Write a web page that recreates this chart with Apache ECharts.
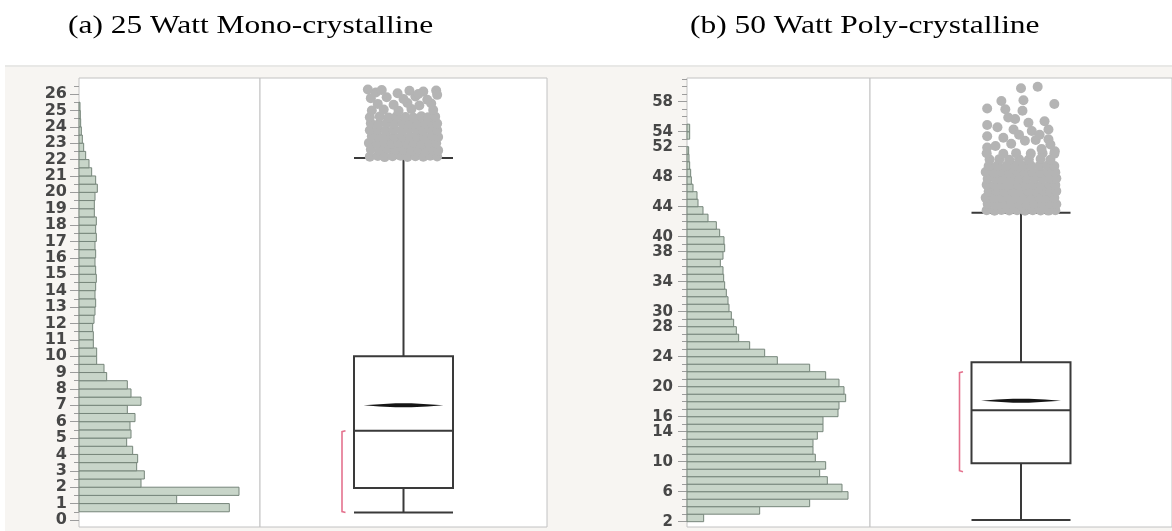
<!DOCTYPE html>
<html><head><meta charset="utf-8">
<script src="https://cdn.jsdelivr.net/npm/echarts@6/dist/echarts.min.js"></script>
<style>html,body{margin:0;padding:0;background:#fff}#c{width:1172px;height:531px}</style>
</head><body><div id="c"></div>
<script>
// ---------- DATA ----------
const titleA = '(a) 25 Watt Mono-crystalline';
const titleB = '(b) 50 Watt Poly-crystalline';

// Panel (a): histogram, bin width 0.5
const binLoA = [0.5,1,1.5,2,2.5,3,3.5,4,4.5,5,5.5,6,6.5,7,7.5,8,8.5,9,9.5,10,10.5,11,11.5,12,12.5,13,13.5,14,14.5,15,15.5,16,16.5,17,17.5,18,18.5,19,19.5,20,20.5,21,21.5,22,22.5,23,23.5,24,24.5,25];
const countsA = [451,293,480,186,196,173,176,161,143,156,153,168,145,186,156,145,83,75,53,53,43,43,41,45,48,50,48,50,52,50,48,50,48,52,50,52,46,46,48,55,50,38,30,20,14,10,7,5,4,3];
const binWidthA = 0.5;

// Panel (b): histogram, bin width 1
const binLoB = [2,3,4,5,6,7,8,9,10,11,12,13,14,15,16,17,18,19,20,21,22,23,24,25,26,27,28,29,30,31,32,33,34,35,36,37,38,39,40,41,42,43,44,45,46,47,48,49,50,51,53,54];
const countsB = [50,218,368,483,465,421,398,416,385,378,378,391,408,408,453,456,476,471,456,416,368,271,233,188,155,148,140,133,126,123,118,113,110,108,100,108,113,111,98,88,63,48,33,30,18,13,11,8,6,5,8,8];
const binWidthB = 1;

// Tick labels
const labelsA = [0,1,2,3,4,5,6,7,8,9,10,11,12,13,14,15,16,17,18,19,20,21,22,23,24,25,26];
const minorTicksA = [0.5,1.5,2.5,3.5,4.5,5.5,6.5,7.5,8.5,9.5,10.5,11.5,12.5,13.5,14.5,15.5,16.5,17.5,18.5,19.5,20.5,21.5,22.5,23.5,24.5,25.5,26.5];
const labelsB = [2,6,10,14,16,20,24,28,30,34,38,40,44,48,52,54,58];
const minorTicksB = [3,4,5,7,8,9,11,12,13,15,17,18,19,21,22,23,25,26,27,29,31,32,33,35,36,37,39,41,42,43,45,46,47,49,50,51,53,55,56,57,59,60,61];

// Box plots: [lower whisker, Q1, median, Q3, upper whisker]
const boxA = [0.45, 1.95, 5.45, 10.0, 22.1];
const meanA = 7.0;
const shortestHalfA = [0.45, 5.45];
const boxB = [2.23, 9.79, 16.85, 23.25, 43.2];
const meanB = 18.13;
const shortestHalfB = [8.67, 22.0];

// Outliers: [jitter (box widths), value]
const outliersA = [
[-0.34,22.18],[-0.26,22.22],[-0.19,22.15],[-0.11,22.2],[-0.03,22.24],[0.04,22.16],[0.12,22.21],[0.2,22.17],[0.27,22.23],[0.34,22.19],
[-0.33,22.62],[-0.24,22.57],[-0.16,22.64],[-0.08,22.58],[0.0,22.61],[0.08,22.55],[0.15,22.63],[0.23,22.59],[0.3,22.65],[0.35,22.56],
[-0.35,23.01],[-0.27,22.97],[-0.2,23.04],[-0.12,22.98],[-0.05,23.03],[0.03,22.99],[0.1,23.05],[0.18,22.96],[0.26,23.02],[0.33,23.0],
[-0.32,23.42],[-0.25,23.37],[-0.17,23.44],[-0.09,23.38],[-0.01,23.41],[0.07,23.36],[0.14,23.43],[0.21,23.39],[0.29,23.45],[0.35,23.38],
[-0.34,23.79],[-0.26,23.83],[-0.18,23.77],[-0.1,23.82],[-0.02,23.78],[0.05,23.84],[0.13,23.8],[0.2,23.76],[0.28,23.83],[0.34,23.79],
[-0.33,24.22],[-0.25,24.17],[-0.17,24.23],[-0.09,24.19],[-0.01,24.24],[0.06,24.18],[0.14,24.21],[0.22,24.16],[0.29,24.24],[0.34,24.2],
[-0.34,24.58],[-0.24,24.63],[-0.15,24.57],[-0.07,24.64],[0.02,24.6],[0.1,24.56],[0.18,24.65],[0.25,24.59],[0.32,24.62],
[-0.32,25.0],[-0.2,25.05],[-0.05,24.98],[0.08,25.08],[0.3,25.02],[-0.26,25.4],[-0.1,25.35],[0.04,25.45],[0.16,25.3],[0.28,25.42],
[-0.33,25.75],[-0.17,25.8],[0.0,25.7],[0.12,25.85],[0.24,25.65],[-0.28,26.1],[-0.06,26.05],[0.06,26.2],[0.2,26.15],[0.33,26.22],
[-0.36,26.28],[0.34,25.95],[-0.22,26.25],[0.15,26.0]
];
const outliersB = [
[-0.35,43.52],[-0.27,43.47],[-0.2,43.55],[-0.12,43.49],[-0.04,43.53],[0.04,43.46],[0.12,43.54],[0.2,43.5],[0.28,43.48],[0.35,43.53],
[-0.34,44.38],[-0.26,44.31],[-0.18,44.4],[-0.1,44.33],[-0.02,44.37],[0.06,44.3],[0.14,44.39],[0.22,44.34],[0.3,44.36],[0.36,44.32],
[-0.36,45.18],[-0.28,45.24],[-0.2,45.16],[-0.12,45.22],[-0.05,45.19],[0.03,45.25],[0.11,45.17],[0.19,45.21],[0.27,45.23],[0.34,45.18],
[-0.33,46.02],[-0.25,46.08],[-0.17,46.01],[-0.09,46.07],[-0.01,46.04],[0.07,46.09],[0.15,46.03],[0.23,46.06],[0.3,46.01],[0.36,46.08],
[-0.35,46.93],[-0.27,46.87],[-0.19,46.92],[-0.11,46.88],[-0.03,46.94],[0.05,46.89],[0.13,46.91],[0.21,46.86],[0.29,46.93],[0.35,46.9],
[-0.34,47.72],[-0.26,47.78],[-0.18,47.73],[-0.1,47.77],[-0.02,47.71],[0.06,47.79],[0.14,47.74],[0.22,47.76],[0.3,47.72],[0.36,47.78],
[-0.36,48.63],[-0.28,48.57],[-0.2,48.62],[-0.12,48.58],[-0.04,48.64],[0.04,48.59],[0.12,48.61],[0.2,48.56],[0.28,48.63],[0.35,48.6],
[-0.33,49.42],[-0.24,49.48],[-0.15,49.43],[-0.06,49.47],[0.02,49.41],[0.1,49.49],[0.19,49.44],[0.27,49.46],[0.34,49.42],
[-0.32,50.28],[-0.22,50.34],[-0.12,50.27],[-0.02,50.33],[0.08,50.29],[0.2,50.35],[0.3,50.27],
[-0.35,51.12],[-0.18,51.06],[-0.05,51.14],[0.1,51.08],[0.22,51.13],[0.34,51.05],
[0.0,59.8],[0.17,60.0],[0.34,57.7],[-0.345,57.1],[-0.2,58.1],[0.025,58.2],[0.015,56.8],[-0.16,57.0],[-0.13,55.9],[-0.06,55.7],
[0.076,55.2],[0.24,55.4],[-0.345,54.9],[-0.24,54.6],[-0.076,54.3],[0.11,54.1],[0.28,54.3],[-0.345,53.4],[-0.18,53.2],[0.28,53.0],
[-0.345,51.9],[0.21,51.7],[0.345,51.4],[0.04,52.8],[-0.1,52.4],[0.15,52.9],[0.3,52.3],[-0.26,52.1],[-0.02,53.6],[0.19,53.6]
];

// ---------- CHART ----------
const histA = binLoA.map((lo, i) => [lo, lo + binWidthA, countsA[i]]);
const histB = binLoB.map((lo, i) => [lo, lo + binWidthB, countsB[i]]);

function histRender(params, api) {
  const lo = api.value(0), hi = api.value(1), c = api.value(2);
  const p0 = api.coord([0, hi]);
  const p1 = api.coord([c, lo]);
  return {
    type: 'rect',
    shape: { x: p0[0], y: p0[1], width: p1[0] - p0[0], height: p1[1] - p0[1] },
    style: { fill: '#c8d5c9', stroke: '#76857a', lineWidth: 1 }
  };
}
function meanRender(params, api) {
  const p = api.coord([api.value(0), api.value(1)]);
  const x = p[0], y = p[1];
  return {
    type: 'polygon',
    shape: { points: [[x-40,y],[x-24,y-1.1],[x-8,y-2],[x+8,y-2],[x+24,y-1.1],[x+40,y],[x+24,y+1.1],[x+8,y+2],[x-8,y+2],[x-24,y+1.1]] },
    style: { fill: '#151515' }
  };
}
function bracketRender(params, api) {
  const top = api.coord([api.value(0), api.value(2)]);
  const bot = api.coord([api.value(0), api.value(1)]);
  const x = top[0] - 61.5;
  return {
    type: 'polyline',
    shape: { points: [[x+3.5, top[1]], [x, top[1]+1], [x, bot[1]-1], [x+3.5, bot[1]]] },
    style: { stroke: '#e4728e', lineWidth: 1.6, fill: null }
  };
}

const labelStyleA = { fontFamily: 'DejaVu Sans', fontWeight: 'bold', fontSize: 16, color: '#474747' };
const labelStyleB = { fontFamily: 'DejaVu Sans', fontWeight: 'bold', fontSize: 15, color: '#474747' };
const gridStyle = { show: true, backgroundColor: '#fff', borderColor: '#c2c2c2', borderWidth: 1 };

const option = {
  animation: false,
  backgroundColor: '#f7f5f2',
  graphic: [
    { type: 'rect', left: 0, top: 0, shape: { width: 1172, height: 65 }, style: { fill: '#fff' } },
    { type: 'rect', left: 0, top: 65, shape: { width: 1172, height: 2 }, style: { fill: '#e8e8e6' } },
    { type: 'rect', left: 0, top: 65, shape: { width: 5, height: 466 }, style: { fill: '#fff' } },
    { type: 'text', x: 68, y: 13.5, scaleX: 1.21, style: { text: titleA, font: '26px "Liberation Serif"', fill: '#000' } },
    { type: 'text', x: 690, y: 13.5, scaleX: 1.21, style: { text: titleB, font: '26px "Liberation Serif"', fill: '#000' } }
  ],
  grid: [
    Object.assign({ left: 79, top: 78, width: 181, height: 449 }, gridStyle),
    Object.assign({ left: 260, top: 78, width: 287, height: 449 }, gridStyle),
    Object.assign({ left: 687, top: 78, width: 183, height: 449 }, gridStyle),
    Object.assign({ left: 870, top: 78, width: 305, height: 449 }, gridStyle)
  ],
  xAxis: [
    { gridIndex: 0, type: 'value', min: 0, max: 543, show: false },
    { gridIndex: 1, type: 'category', data: ['Mono'], show: false },
    { gridIndex: 1, type: 'value', min: -1.45, max: 1.45, show: false },
    { gridIndex: 2, type: 'value', min: 0, max: 549, show: false },
    { gridIndex: 3, type: 'category', data: ['Poly'], show: false },
    { gridIndex: 3, type: 'value', min: -1.54, max: 1.54, show: false }
  ],
  yAxis: [
    { gridIndex: 0, type: 'value', position: 'left', min: -0.43, max: 26.98,
      axisLine: { show: false }, splitLine: { show: false },
      axisTick: { show: true, customValues: labelsA, length: 9, lineStyle: { color: '#9c9c9c' } },
      axisLabel: Object.assign({ customValues: labelsA, margin: 12 }, labelStyleA) },
    { gridIndex: 0, type: 'value', position: 'left', min: -0.43, max: 26.98,
      axisLine: { show: false }, splitLine: { show: false }, axisLabel: { show: false },
      axisTick: { show: true, customValues: minorTicksA, length: 5, lineStyle: { color: '#9c9c9c' } } },
    { gridIndex: 1, type: 'value', min: -0.43, max: 26.98, show: false, splitLine: { show: false } },
    { gridIndex: 2, type: 'value', position: 'left', min: 1.29, max: 61.16,
      axisLine: { show: false }, splitLine: { show: false },
      axisTick: { show: true, customValues: labelsB, length: 9, lineStyle: { color: '#9c9c9c' } },
      axisLabel: Object.assign({ customValues: labelsB, margin: 14 }, labelStyleB) },
    { gridIndex: 2, type: 'value', position: 'left', min: 1.29, max: 61.16,
      axisLine: { show: false }, splitLine: { show: false }, axisLabel: { show: false },
      axisTick: { show: true, customValues: minorTicksB, length: 5, lineStyle: { color: '#9c9c9c' } } },
    { gridIndex: 3, type: 'value', min: 1.29, max: 61.16, show: false, splitLine: { show: false } }
  ],
  series: [
    { type: 'custom', xAxisIndex: 0, yAxisIndex: 0, data: histA, renderItem: histRender, encode: { x: 2, y: [0, 1] }, silent: true },
    { type: 'custom', xAxisIndex: 3, yAxisIndex: 3, data: histB, renderItem: histRender, encode: { x: 2, y: [0, 1] }, silent: true },
    { type: 'boxplot', xAxisIndex: 1, yAxisIndex: 2, data: [boxA], boxWidth: [99, 99], silent: true, z: 2,
      itemStyle: { color: '#fff', borderColor: '#3a3a3a', borderWidth: 2 } },
    { type: 'boxplot', xAxisIndex: 4, yAxisIndex: 5, data: [boxB], boxWidth: [99, 99], silent: true, z: 2,
      itemStyle: { color: '#fff', borderColor: '#3a3a3a', borderWidth: 2 } },
    { type: 'custom', xAxisIndex: 1, yAxisIndex: 2, data: [[0, meanA]], renderItem: meanRender, encode: { x: 0, y: 1 }, silent: true, z: 4 },
    { type: 'custom', xAxisIndex: 4, yAxisIndex: 5, data: [[0, meanB]], renderItem: meanRender, encode: { x: 0, y: 1 }, silent: true, z: 4 },
    { type: 'custom', xAxisIndex: 1, yAxisIndex: 2, data: [[0, shortestHalfA[0], shortestHalfA[1]]], renderItem: bracketRender, encode: { x: 0, y: [1, 2] }, silent: true, z: 4 },
    { type: 'custom', xAxisIndex: 4, yAxisIndex: 5, data: [[0, shortestHalfB[0], shortestHalfB[1]]], renderItem: bracketRender, encode: { x: 0, y: [1, 2] }, silent: true, z: 4 },
    { type: 'scatter', xAxisIndex: 2, yAxisIndex: 2, data: outliersA, symbolSize: 10, silent: true, z: 5,
      itemStyle: { color: '#b4b4b4', opacity: 1 } },
    { type: 'scatter', xAxisIndex: 5, yAxisIndex: 5, data: outliersB, symbolSize: 10, silent: true, z: 5,
      itemStyle: { color: '#b4b4b4', opacity: 1 } }
  ]
};
const chart = echarts.init(document.getElementById('c'), null, { renderer: 'canvas' });
chart.setOption(option);
</script></body></html>
